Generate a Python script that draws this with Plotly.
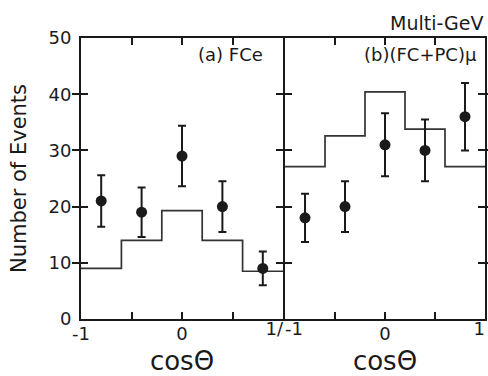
import plotly.graph_objects as go

# ---- data ----
bin_centers = [-0.8, -0.4, 0.0, 0.4, 0.8]
bin_edges = [-1.0, -0.6, -0.2, 0.2, 0.6, 1.0]

fce_data = [21, 19, 29, 20, 9]
fce_err = [4.6, 4.4, 5.4, 4.5, 3.0]
fce_mc = [9.0, 14.0, 19.3, 14.0, 8.5]

mu_data = [18, 20, 31, 30, 36]
mu_err = [4.3, 4.5, 5.6, 5.5, 6.0]
mu_mc = [27.1, 32.6, 40.4, 33.8, 27.1]

x_tickvals = [-1, -0.5, 0, 0.5, 1]
x_ticktext_a = ["-1", "", "0", "", ""]
x_ticktext_b = ["", "", "0", "", ""]
edge_label_a = ["1/"]
edge_label_b = ["-1"]
edge_label_b_right = ["1"]
y_tickvals = [0, 10, 20, 30, 40, 50]

FONT = "DejaVu Sans"
INK = "#1a1a1a"

fig = go.Figure()

for i, (data, err, mc) in enumerate([(fce_data, fce_err, fce_mc), (mu_data, mu_err, mu_mc)]):
    xa = "x" if i == 0 else "x2"
    ya = "y" if i == 0 else "y2"
    fig.add_trace(go.Scatter(
        x=bin_edges, y=mc + [mc[-1]], mode="lines", line=dict(shape="hv", color="#333333", width=1.7),
        xaxis=xa, yaxis=ya, showlegend=False, hoverinfo="skip"))
    fig.add_trace(go.Scatter(
        x=bin_centers, y=data, mode="markers",
        marker=dict(size=11, color=INK),
        error_y=dict(type="data", array=err, visible=True, color=INK, thickness=2, width=4),
        xaxis=xa, yaxis=ya, showlegend=False))

TICKFONT = dict(family=FONT, size=18, color=INK)
axis_common = dict(showgrid=False, zeroline=False, showline=True, linecolor=INK, linewidth=2,
                   mirror="allticks", ticks="inside", ticklen=7, tickwidth=1.6, tickcolor=INK,
                   automargin=False, tickfont=TICKFONT, ticklabeloverflow="allow")

edge_common = dict(showgrid=False, zeroline=False, showline=False, ticks="", automargin=False,
                   range=[-1, 1], side="bottom", ticklabelstandoff=-3, tickfont=TICKFONT,
                   ticklabeloverflow="allow")

title_font = dict(family=FONT, size=26, color=INK)

fig.update_layout(
    width=488, height=376,
    margin=dict(l=81, r=3, t=38, b=57),
    paper_bgcolor="white", plot_bgcolor="white",
    font=dict(family=FONT, color=INK),
    xaxis=dict(domain=[0, 0.5], range=[-1, 1], tickvals=x_tickvals, ticktext=x_ticktext_a,
               anchor="y", ticklabelstandoff=-3,
               title=dict(text="cosΘ", font=title_font, standoff=14),
               **axis_common),
    xaxis2=dict(domain=[0.505, 1], range=[-1, 1], tickvals=x_tickvals, ticktext=x_ticktext_b,
                anchor="y2", ticklabelstandoff=-3,
                title=dict(text="cosΘ", font=title_font, standoff=14),
                **axis_common),
    xaxis3=dict(overlaying="x", anchor="y", tickvals=[1], ticktext=edge_label_a,
                ticklabelposition="outside left", **edge_common),
    xaxis4=dict(overlaying="x2", anchor="y2", tickvals=[-1], ticktext=edge_label_b,
                ticklabelposition="outside right", **edge_common),
    xaxis5=dict(overlaying="x2", anchor="y2", tickvals=[1], ticktext=edge_label_b_right,
                ticklabelposition="outside left", **edge_common),
    yaxis=dict(domain=[0, 1], range=[0, 50], tickvals=y_tickvals, anchor="x", ticklabelstandoff=4,
               title=dict(text="Number of Events", font=dict(family=FONT, size=21, color=INK), standoff=16),
               **axis_common),
    yaxis2=dict(domain=[0, 1], range=[0, 50], tickvals=y_tickvals, anchor="x2", showticklabels=False,
                **axis_common),
    annotations=[
        dict(text="Multi-GeV", xref="paper", yref="paper", x=1.0, y=1.0, xanchor="right", yanchor="bottom",
             yshift=2, showarrow=False, font=dict(family=FONT, size=19, color=INK)),
        dict(text="(a) FCe", xref="x domain", yref="y domain", x=0.91, y=0.94, xanchor="right", yanchor="middle",
             showarrow=False, font=dict(family=FONT, size=18, color=INK)),
        dict(text="(b)(FC+PC)μ", xref="x2 domain", yref="y2 domain", x=0.97, y=0.94, xanchor="right",
             yanchor="middle", showarrow=False, font=dict(family=FONT, size=18, color=INK)),
    ],
)

# invisible helper traces so the edge-label axes are drawn
fig.add_trace(go.Scatter(x=[], y=[], xaxis="x3", yaxis="y", showlegend=False))
fig.add_trace(go.Scatter(x=[], y=[], xaxis="x4", yaxis="y2", showlegend=False))
fig.add_trace(go.Scatter(x=[], y=[], xaxis="x5", yaxis="y2", showlegend=False))

fig.write_html("out.html", config={"displayModeBar": False},
               post_script="document.body.style.margin='0';document.body.style.overflow='hidden';")
